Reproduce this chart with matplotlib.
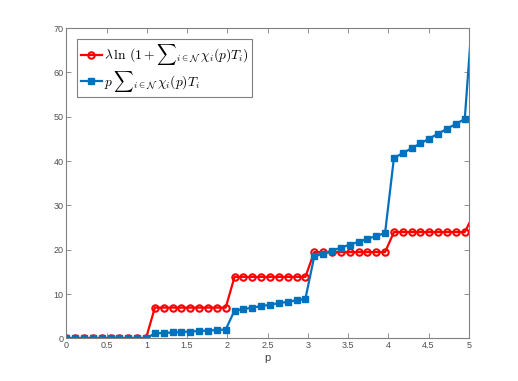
import matplotlib
matplotlib.use("Agg")
import matplotlib.pyplot as plt

# sample points of p (last one lies just past the axis limit)
p = [0.00, 0.11, 0.22, 0.33, 0.44, 0.55, 0.66, 0.77, 0.88, 0.99,
     1.10, 1.21, 1.32, 1.43, 1.54, 1.65, 1.76, 1.87, 1.98,
     2.09, 2.20, 2.31, 2.42, 2.53, 2.64, 2.75, 2.86, 2.97,
     3.08, 3.19, 3.30, 3.41, 3.52, 3.63, 3.74, 3.85, 3.96,
     4.07, 4.18, 4.29, 4.40, 4.51, 4.62, 4.73, 4.84, 4.95,
     5.06]

# lambda ln(1 + sum chi_i(p) T_i)
red_vals = [0.0] * 10 + [6.93] * 9 + [13.86] * 9 + [19.46] * 9 + [23.98] * 9 + [27.9]

# p sum chi_i(p) T_i
blue_vals = [0.0] * 10 + \
    [1.10, 1.21, 1.32, 1.43, 1.54, 1.65, 1.76, 1.87, 1.98] + \
    [6.27, 6.60, 6.93, 7.26, 7.59, 7.92, 8.25, 8.58, 8.91] + \
    [18.48, 19.14, 19.80, 20.46, 21.12, 21.78, 22.44, 23.10, 23.76] + \
    [40.7, 41.8, 42.9, 44.0, 45.1, 46.2, 47.3, 48.4, 49.5] + \
    [76.9]

xticks = [0, 0.5, 1, 1.5, 2, 2.5, 3, 3.5, 4, 4.5, 5]
xticklabels = ['0', '0.5', '1', '1.5', '2', '2.5', '3', '3.5', '4', '4.5', '5']
yticks = [0, 10, 20, 30, 40, 50, 60, 70]

plt.rcParams['mathtext.fontset'] = 'cm'
plt.rcParams['font.family'] = ['Liberation Sans', 'DejaVu Sans']

fig = plt.figure(figsize=(5.18, 3.81), dpi=100)
ax = fig.add_axes([0.128, 0.112, 0.777, 0.814])

ax.plot(p, red_vals, color='#FF0000', lw=1.6, marker='o', ms=4.6,
        mfc='none', mec='#FF0000', mew=1.5,
        label=r'$\lambda\,\ln\,(1+{\sum}_{i\in\mathcal{N}}\,\chi_i(p)T_i)$')
ax.plot(p, blue_vals, color='#0072BD', lw=1.6, marker='s', ms=4.0,
        mfc='#0072BD', mec='#0072BD',
        label=r'$p\,{\sum}_{i\in\mathcal{N}}\,\chi_i(p)T_i$')

ax.set_xlim(0, 5)
ax.set_ylim(0, 70)
ax.set_xticks(xticks)
ax.set_xticklabels(xticklabels)
ax.set_yticks(yticks)
ax.set_xlabel('p', fontsize=8, color='#404040', labelpad=2)

for s in ax.spines.values():
    s.set_color('#808080')
    s.set_linewidth(0.8)
ax.tick_params(direction='in', top=True, right=True, length=3.5, width=0.6,
               color='#808080', labelsize=6.5, labelcolor='#505050', pad=2)

leg = ax.legend(loc='upper left', fontsize=9.8, handlelength=1.6,
                handletextpad=0.1, borderpad=0.25, labelspacing=0.1,
                fancybox=False, framealpha=1, borderaxespad=0.8)
leg.get_frame().set_edgecolor('#808080')
leg.get_frame().set_linewidth(0.8)

fig.savefig('out.png', dpi=100)
